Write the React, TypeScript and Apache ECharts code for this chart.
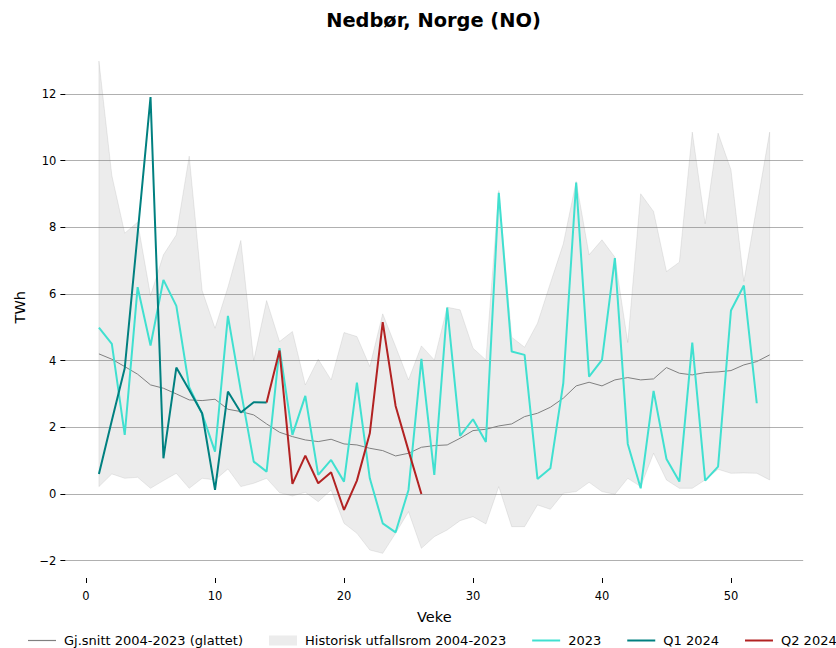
import React, { useEffect, useRef } from "react";
import * as echarts from "echarts";

const weeks = [
  1, 2, 3, 4, 5, 6, 7, 8, 9, 10, 11, 12, 13, 14, 15, 16, 17, 18, 19, 20, 21, 22, 23, 24, 25, 26, 27,
  28, 29, 30, 31, 32, 33, 34, 35, 36, 37, 38, 39, 40, 41, 42, 43, 44, 45, 46, 47, 48, 49, 50, 51, 52, 53,
];

const bandUpper = [
  12.98, 9.55, 7.82, 8.15, 5.95, 7.17, 7.77, 10.13, 6.1, 4.97, 6.2, 7.6, 4.0, 5.8, 4.57, 4.87, 3.27,
  4.04, 3.42, 4.84, 4.72, 3.82, 5.4, 4.42, 3.42, 4.44, 4.02, 5.6, 5.52, 4.37, 4.02, 9.1, 4.7, 4.4, 5.12,
  6.32, 7.5, 9.37, 7.17, 7.62, 7.1, 4.54, 9.0, 8.47, 6.67, 6.95, 10.85, 8.1, 10.82, 9.72, 6.37, 8.62, 10.85,
];

const bandLower = [
  0.22, 0.6, 0.47, 0.5, 0.17, 0.4, 0.62, 0.17, 0.47, 0.42, 0.75, 0.22, 0.32, 0.47, 0.04, -0.06, 0.05,
  -0.23, 0.12, -0.88, -1.18, -1.68, -1.78, -1.18, -0.53, -1.63, -1.28, -1.08, -0.8, -0.68, -0.9, 0.22,
  -0.98, -0.98, -0.33, -0.46, 0.02, 0.07, 0.35, 0.07, -0.01, 0.47, 0.22, 1.22, 0.42, 0.17, 0.17, 0.42,
  0.74, 0.62, 0.63, 0.62, 0.42,
];

const meanSmoothed = [
  4.2, 4.04, 3.82, 3.59, 3.27, 3.17, 3.0, 2.82, 2.8, 2.84, 2.54, 2.47, 2.37, 2.1, 1.85, 1.72, 1.62, 1.57,
  1.64, 1.5, 1.47, 1.37, 1.3, 1.14, 1.22, 1.4, 1.45, 1.47, 1.67, 1.9, 1.94, 2.04, 2.1, 2.32, 2.42, 2.6,
  2.87, 3.24, 3.35, 3.24, 3.42, 3.49, 3.42, 3.45, 3.79, 3.62, 3.57, 3.64, 3.66, 3.7, 3.87, 3.97, 4.17,
];

const values2023 = [
  4.99, 4.5, 1.77, 6.2, 4.45, 6.42, 5.64, 3.2, 2.4, 1.27, 5.34, 3.1, 0.97, 0.67, 4.37, 1.77, 2.94, 0.57,
  1.02, 0.37, 3.34, 0.47, -0.88, -1.15, 0.12, 4.05, 0.57, 5.59, 1.74, 2.24, 1.56, 9.03, 4.27, 4.17, 0.45,
  0.77, 3.32, 9.34, 3.52, 4.02, 7.07, 1.5, 0.17, 3.09, 1.05, 0.37, 4.54, 0.4, 0.82, 5.5, 6.25, 2.72,
];

const weeksQ1 = [1, 2, 3, 4, 5, 6, 7, 8, 9, 10, 11, 12, 13, 14];
const valuesQ1 = [0.6, 2.2, 3.77, 7.8, 11.9, 1.07, 3.79, 3.12, 2.42, 0.12, 3.07, 2.44, 2.75, 2.74];

const weeksQ2 = [14, 15, 16, 17, 18, 19, 20, 21, 22, 23, 24, 25, 26];
const valuesQ2 = [2.74, 4.3, 0.3, 1.15, 0.32, 0.65, -0.48, 0.4, 1.82, 5.15, 2.64, 1.3, 0.0];

const yTicks = [-2, 0, 2, 4, 6, 8, 10, 12];
const xTicks = [0, 10, 20, 30, 40, 50];

const NAME_MEAN = "Gj.snitt 2004-2023 (glattet)";
const NAME_BAND = "Historisk utfallsrom 2004-2023";
const NAME_2023 = "2023";
const NAME_Q1 = "Q1 2024";
const NAME_Q2 = "Q2 2024";

const FONT = "DejaVu Sans";

export default function App() {
  const ref = useRef<HTMLDivElement>(null);

  useEffect(() => {
    if (!ref.current) return;
    const chart = echarts.init(ref.current, null, { renderer: "svg" });

    const pairs = (xs: number[], ys: number[]) => xs.map((x, i) => [x, ys[i]]);
    const bandData = weeks.map((w, i) => [w, bandLower[i], bandUpper[i]]);

    const bandColor = "rgba(128,128,128,0.15)";

    const option: any = {
      animation: false,
      textStyle: { fontFamily: FONT },
      graphic: [
        {
          type: "text",
          x: 433.5,
          y: 20,
          style: {
            text: "Nedbør, Norge (NO)",
            fontFamily: FONT,
            fontSize: 19.4,
            fontWeight: "bold",
            fill: "#000",
            textAlign: "center",
            textVerticalAlign: "middle",
          },
        },
      ],
      legend: {
        left: 28,
        top: 634,
        width: 1000,
        padding: 0,
        itemWidth: 28,
        itemHeight: 14,
        itemGap: 26,
        selectedMode: false,
        textStyle: { fontSize: 13, color: "#000", fontFamily: FONT, padding: [0, 0, 0, 3] },
        data: [
          { name: NAME_MEAN, icon: "path://M0,0H28V1.2H0Z", itemStyle: { color: "#808080" } },
          { name: NAME_BAND, icon: "path://M0,0H28V10H0Z", itemStyle: { color: bandColor } },
          { name: NAME_2023, icon: "path://M0,0H28V2H0Z", itemStyle: { color: "#40e0d0" } },
          { name: NAME_Q1, icon: "path://M0,0H28V2H0Z", itemStyle: { color: "#008080" } },
          { name: NAME_Q2, icon: "path://M0,0H28V2H0Z", itemStyle: { color: "#b22222" } },
        ],
      },
      grid: [
        { left: 65.4, right: 32.8, top: 36.4, bottom: 70 },
        { left: 65.4, right: 32.8, top: 93.8, bottom: 87.3 },
        { left: 86, right: 105, top: 36.4, bottom: 70 },
      ],
      xAxis: [
        {
          gridIndex: 0,
          type: "value",
          min: -1.6,
          max: 55.6,
          axisLine: { show: false },
          axisTick: { show: false },
          axisLabel: { show: false },
          splitLine: { show: false },
          name: "Veke",
          nameLocation: "middle",
          nameGap: 31,
          nameTextStyle: { fontSize: 14.5, color: "#000", fontFamily: FONT },
        },
        { gridIndex: 1, type: "value", min: 0, max: 10, show: false },
        {
          gridIndex: 2,
          type: "value",
          min: xTicks[0],
          max: xTicks[xTicks.length - 1],
          interval: 10,
          axisLine: { show: false },
          axisTick: { show: true, length: 5, lineStyle: { color: "#000", width: 1 } },
          axisLabel: { fontSize: 11.5, color: "#000", margin: 12, fontFamily: FONT },
          splitLine: { show: false },
        },
      ],
      yAxis: [
        {
          gridIndex: 0,
          type: "value",
          min: -2.52,
          max: 13.72,
          axisLine: { show: false },
          axisTick: { show: false },
          axisLabel: { show: false },
          splitLine: { show: false },
          name: "TWh",
          nameLocation: "middle",
          nameRotate: 90,
          nameGap: 38,
          nameTextStyle: { fontSize: 14.5, color: "#000", fontFamily: FONT },
        },
        {
          gridIndex: 1,
          type: "value",
          min: yTicks[0],
          max: yTicks[yTicks.length - 1],
          interval: 2,
          axisLine: { show: false },
          axisTick: { show: true, length: 5, lineStyle: { color: "#000", width: 1 } },
          axisLabel: {
            fontSize: 11.5,
            color: "#000",
            margin: 9,
            fontFamily: FONT,
            formatter: (v: number) => (v < 0 ? "\u2212" + Math.abs(v) : String(v)),
          },
          splitLine: { show: true, lineStyle: { color: "#b0b0b0", width: 1 } },
        },
        { gridIndex: 2, type: "value", min: 0, max: 1, show: false },
      ],
      series: [
        {
          name: NAME_BAND,
          type: "custom",
          xAxisIndex: 0,
          yAxisIndex: 0,
          data: bandData,
          encode: { x: 0, y: [1, 2] },
          silent: true,
          color: bandColor,
          itemStyle: { color: bandColor },
          z: 1,
          renderItem: (params: any, api: any) => {
            if (params.dataIndex !== 0) return null;
            const pts: number[][] = [];
            for (let i = 0; i < bandData.length; i++) {
              pts.push(api.coord([bandData[i][0], bandData[i][2]]));
            }
            for (let i = bandData.length - 1; i >= 0; i--) {
              pts.push(api.coord([bandData[i][0], bandData[i][1]]));
            }
            return {
              type: "polygon",
              shape: { points: pts },
              style: { fill: bandColor, stroke: bandColor, lineWidth: 1 },
            };
          },
        },
        {
          name: NAME_MEAN,
          type: "line",
          xAxisIndex: 0,
          yAxisIndex: 0,
          data: pairs(weeks, meanSmoothed),
          symbol: "none",
          showSymbol: false,
          color: "#808080",
          lineStyle: { color: "#808080", width: 1 },
          z: 3,
        },
        {
          name: NAME_2023,
          type: "line",
          xAxisIndex: 0,
          yAxisIndex: 0,
          data: pairs(weeks.slice(0, values2023.length), values2023),
          symbol: "none",
          showSymbol: false,
          color: "#40e0d0",
          lineStyle: { color: "#40e0d0", width: 2 },
          z: 4,
        },
        {
          name: NAME_Q1,
          type: "line",
          xAxisIndex: 0,
          yAxisIndex: 0,
          data: pairs(weeksQ1, valuesQ1),
          symbol: "none",
          showSymbol: false,
          color: "#008080",
          lineStyle: { color: "#008080", width: 2 },
          z: 5,
        },
        {
          name: NAME_Q2,
          type: "line",
          xAxisIndex: 0,
          yAxisIndex: 0,
          data: pairs(weeksQ2, valuesQ2),
          symbol: "none",
          showSymbol: false,
          color: "#b22222",
          lineStyle: { color: "#b22222", width: 2 },
          z: 6,
        },
      ],
    };

    chart.setOption(option);
    return () => chart.dispose();
  }, []);

  return (
    <div
      ref={ref}
      style={{ position: "fixed", left: 0, top: 0, width: 836, height: 648, background: "#fff" }}
    />
  );
}
